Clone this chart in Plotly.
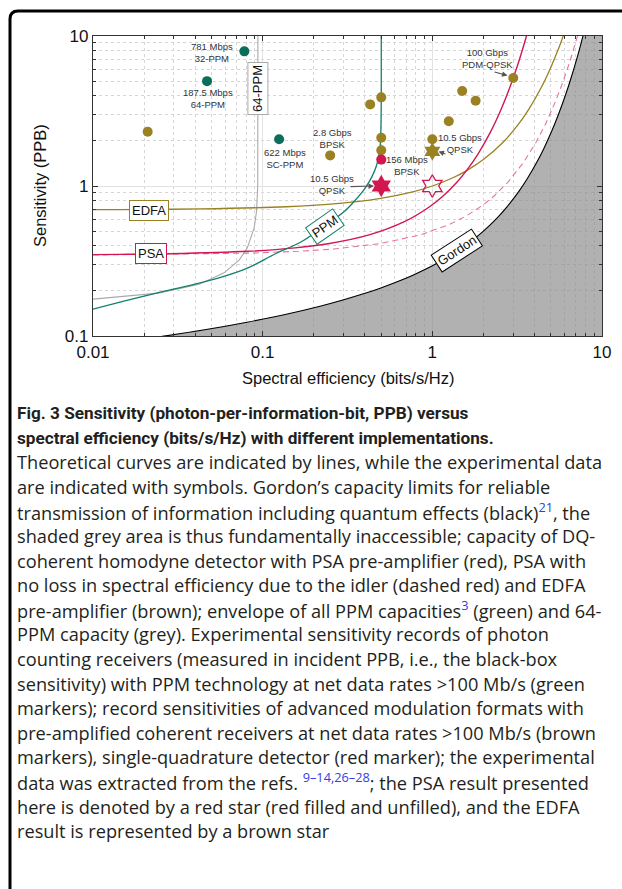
import plotly.graph_objects as go

# ---------------- data ----------------
gordon_x = [0.0226, 0.0269, 0.0455, 0.0809, 0.142, 0.2207, 0.290, 0.3924, 0.4835, 0.6424, 0.780,
            1.013, 1.377, 1.662, 2.0, 2.427, 2.755, 3.245, 3.610, 4.142, 4.529, 5.086, 5.487,
            6.115, 6.592, 7.101, 7.582, 7.774]
gordon_y = [0.0974, 0.1002, 0.110, 0.1236, 0.1408, 0.1586, 0.1724, 0.1911, 0.2068, 0.2335, 0.2564,
            0.2961, 0.363, 0.4213, 0.5, 0.618, 0.726, 0.9245, 1.108, 1.449, 1.766, 2.359, 2.916,
            4.088, 5.309, 7.041, 9.232, 10.29]

edfa_x = [0.01, 0.01436, 0.04264, 0.1375, 0.263, 0.4854, 0.7655, 1.0, 1.322, 1.585, 2.0, 2.585,
          3.170, 3.700, 4.392, 4.954, 5.524, 5.931]
edfa_y = [0.695, 0.6966, 0.7035, 0.7273, 0.7604, 0.824, 0.9144, 1.0, 1.1347, 1.2619, 1.5, 1.934,
          2.524, 3.243, 4.553, 6.056, 8.147, 10.117]

psa_x = [0.01, 0.01429, 0.02829, 0.08175, 0.1552, 0.2427, 0.424, 0.6893, 0.963, 1.161, 1.404,
         1.585, 1.850, 2.196, 2.522, 2.807, 3.170, 3.459, 3.629]
psa_y = [0.349, 0.350, 0.3535, 0.367, 0.3867, 0.412, 0.4717, 0.5803, 0.7269, 0.8614, 1.0686,
         1.2619, 1.6214, 2.2767, 3.172, 4.2745, 6.309, 8.672, 10.472]

psa_dash_x = [0.01, 0.01436, 0.02857, 0.08406, 0.1635, 0.263, 0.4854, 0.848, 1.263, 1.585, 2.0,
              2.322, 2.807, 3.459, 4.087, 4.644, 5.358, 5.931, 6.508, 7.140, 7.238]
psa_dash_y = [0.347, 0.3483, 0.350, 0.3569, 0.367, 0.3802, 0.412, 0.4717, 0.5542, 0.6309, 0.75,
              0.8614, 1.0686, 1.4453, 1.9572, 2.584, 3.733, 5.058, 6.915, 9.805, 10.361]

ppm_x = [0.01, 0.015, 0.024, 0.035, 0.054, 0.08, 0.12, 0.166, 0.22, 0.30, 0.35, 0.40, 0.44,
         0.47, 0.49, 0.497, 0.5, 0.5]
ppm_y = [0.151, 0.170, 0.194, 0.214, 0.242, 0.281, 0.355, 0.42, 0.52, 0.67, 0.80, 0.96, 1.15,
         1.38, 1.75, 2.3, 4.0, 11.0]

ppm64_x = [0.01, 0.0243, 0.0423, 0.05926, 0.07283, 0.08106, 0.08908, 0.09203, 0.09352,
           0.09374, 0.09375, 0.09375]
ppm64_y = [0.176, 0.193, 0.2216, 0.2637, 0.3218, 0.3855, 0.5262, 0.679, 1.0025, 1.5, 3.333, 11.0]

green_pts_x = [0.078, 0.047, 0.125]
green_pts_y = [7.9, 5.0, 2.05]

brown_pts_x = [0.021, 0.25, 0.43, 0.5, 0.5, 0.5, 1.0, 1.25, 1.5, 1.8, 3.0]
brown_pts_y = [2.3, 1.6, 3.5, 3.9, 2.1, 1.73, 2.05, 2.7, 4.3, 3.7, 5.25]

red_pt_x = [0.5]
red_pt_y = [1.5]

red_star_x = [0.5]
red_star_y = [1.0]
red_open_star_x = [1.0]
red_open_star_y = [1.0]
brown_star_x = [1.0]
brown_star_y = [1.7]

caption_title = [
    "Fig. 3 Sensitivity (photon-per-information-bit, PPB) versus",
    "spectral efficiency (bits/s/Hz) with different implementations.",
]
caption_lines = [
    "Theoretical curves are indicated by lines, while the experimental data",
    "are indicated with symbols. Gordon’s capacity limits for reliable",
    "transmission of information including quantum effects (black)<sup><span style='color:#3340e0'>21</span></sup>, the",
    "shaded grey area is thus fundamentally inaccessible; capacity of DQ-",
    "coherent homodyne detector with PSA pre-amplifier (red), PSA with",
    "no loss in spectral efficiency due to the idler (dashed red) and EDFA",
    "pre-amplifier (brown); envelope of all PPM capacities<sup><span style='color:#3340e0'>3</span></sup> (green) and 64-",
    "PPM capacity (grey). Experimental sensitivity records of photon",
    "counting receivers (measured in incident PPB, i.e., the black-box",
    "sensitivity) with PPM technology at net data rates &gt;100 Mb/s (green",
    "markers); record sensitivities of advanced modulation formats with",
    "pre-amplified coherent receivers at net data rates &gt;100 Mb/s (brown",
    "markers), single-quadrature detector (red marker); the experimental",
    "data was extracted from the refs. <sup><span style='color:#3340e0'>9–14,26–28</span></sup>; the PSA result presented",
    "here is denoted by a red star (red filled and unfilled), and the EDFA",
    "result is represented by a brown star",
]

# ---------------- styling ----------------
GREEN = "#0b6e5a"
GREEN_L = "#12806a"
BROWN = "#9a8122"
RED = "#d3164f"
PINK = "#e0789a"
GREY = "#aaaaaa"
FONT = "Liberation Sans, Arial, sans-serif"

# plot area in pixels
L, R, T, B = 93, 602, 36, 336
W, H = 622, 889


def PX(x):
    return (x - L) / (R - L)


def PY(y):
    return (B - y) / (B - T)


fig = go.Figure()

# inaccessible region
fig.add_trace(go.Scatter(x=gordon_x + [30, 30, gordon_x[0]], y=gordon_y + [30, 0.05, 0.05],
                         fill="toself", fillcolor="rgba(140,140,140,0.68)", line=dict(width=0),
                         mode="lines", hoverinfo="skip", showlegend=False))

fig.add_trace(go.Scatter(x=ppm64_x, y=ppm64_y, mode="lines", line=dict(color=GREY, width=1.1),
                         showlegend=False))
fig.add_trace(go.Scatter(x=psa_dash_x, y=psa_dash_y, mode="lines",
                         line=dict(color=PINK, width=1.1, dash="6px,4px"), showlegend=False))
fig.add_trace(go.Scatter(x=edfa_x, y=edfa_y, mode="lines", line=dict(color=BROWN, width=1.3),
                         line_shape="spline", showlegend=False))
fig.add_trace(go.Scatter(x=psa_x, y=psa_y, mode="lines", line=dict(color=RED, width=1.4),
                         line_shape="spline", showlegend=False))
fig.add_trace(go.Scatter(x=ppm_x, y=ppm_y, mode="lines", line=dict(color=GREEN_L, width=1.3),
                         line_shape="spline", showlegend=False))
fig.add_trace(go.Scatter(x=gordon_x, y=gordon_y, mode="lines", line=dict(color="black", width=1.1),
                         line_shape="spline", showlegend=False))

# experimental points
fig.add_trace(go.Scatter(x=green_pts_x, y=green_pts_y, mode="markers",
                         marker=dict(color=GREEN, size=10, line=dict(width=0)), showlegend=False))
fig.add_trace(go.Scatter(x=brown_pts_x, y=brown_pts_y, mode="markers",
                         marker=dict(color=BROWN, size=10, line=dict(width=0)), showlegend=False))
fig.add_trace(go.Scatter(x=red_pt_x, y=red_pt_y, mode="markers",
                         marker=dict(color=RED, size=10, line=dict(width=0)), showlegend=False))
fig.add_trace(go.Scatter(x=red_star_x, y=red_star_y, mode="markers",
                         marker=dict(color=RED, size=17, symbol="hexagram", line=dict(width=0)),
                         showlegend=False))
fig.add_trace(go.Scatter(x=red_open_star_x, y=red_open_star_y, mode="markers",
                         marker=dict(color=RED, size=17, symbol="hexagram-open", line=dict(width=1.3)),
                         showlegend=False))
fig.add_trace(go.Scatter(x=brown_star_x, y=brown_star_y, mode="markers",
                         marker=dict(color=BROWN, size=14, symbol="hexagram", line=dict(width=0)),
                         showlegend=False))

ann = []

# data labels
LBL = dict(size=9.5, color="#333333", family=FONT)
for txt, cx, cy in [
    ("781 Mbps<br>32-PPM", 212.3, 52.7),
    ("187.5 Mbps<br>64-PPM", 208.3, 99),
    ("622 Mbps<br>SC-PPM", 285, 158.3),
    ("2.8 Gbps<br>BPSK", 332.7, 138.3),
    ("156 Mbps<br>BPSK", 407.3, 165.7),
    ("10.5 Gbps<br>QPSK", 331.7, 184.3),
    ("10.5 Gbps<br>QPSK", 460, 143.3),
    ("100 Gbps<br>PDM-QPSK", 487.7, 58.3),
]:
    ann.append(dict(text=txt, x=PX(cx), y=PY(cy), xref="paper", yref="paper", showarrow=False,
                    font=LBL, xanchor="center", yanchor="middle"))

# arrows (head, tail)
for hx, hy, tx, ty in [(374, 186, 349, 186.7), (438.5, 151.5, 447, 154.5), (507.5, 75.5, 493, 71.5)]:
    ann.append(dict(text="", x=PX(hx), y=PY(hy), xref="paper", yref="paper", showarrow=True,
                    ax=tx - hx, ay=ty - hy, arrowhead=2, arrowsize=1, arrowwidth=1.1,
                    arrowcolor="#555555"))

# curve labels
CL = dict(size=13, color="#111111", family=FONT)
for txt, cx, cy, col, ang in [
    ("EDFA", 149, 210.3, BROWN, 0),
    ("PSA", 150.7, 253, RED, 0),
    ("PPM", 325, 226.7, GREEN_L, -35),
    ("Gordon", 456.7, 250, "black", -33),
    ("64-PPM", 257.7, 88.3, GREY, -90),
]:
    ann.append(dict(text=txt, x=PX(cx), y=PY(cy), xref="paper", yref="paper", showarrow=False,
                    font=CL, bgcolor="white", bordercolor=col, borderwidth=1, borderpad=2,
                    textangle=ang, xanchor="center", yanchor="middle"))

# axis titles
ann.append(dict(text="Spectral efficiency (bits/s/Hz)", x=PX(347.5), y=PY(378), xref="paper",
                yref="paper", showarrow=False, font=dict(size=16.5, color="#111111", family=FONT),
                xanchor="center", yanchor="middle"))
ann.append(dict(text="Sensitivity (PPB)", x=PX(40), y=PY(186), xref="paper", yref="paper",
                showarrow=False, textangle=-90, font=dict(size=16.5, color="#111111", family=FONT),
                xanchor="center", yanchor="middle"))

# caption
CAPB = dict(size=17.2, color="#231f20", family="Roboto, Open Sans, sans-serif")
CAP = dict(size=18.2, color="#231f20", family="Open Sans, Noto Sans, sans-serif")
row = 0
for line in caption_title:
    ann.append(dict(text="<b>" + line + "</b>", x=PX(15), y=PY(413 + row * 24.6), xref="paper",
                    yref="paper", showarrow=False, font=CAPB, xanchor="left", yanchor="middle",
                    align="left"))
    row += 1
for line in caption_lines:
    ann.append(dict(text=line, x=PX(15), y=PY(413 + row * 24.6), xref="paper", yref="paper",
                    showarrow=False, font=CAP, xanchor="left", yanchor="middle", align="left"))
    row += 1

# outer rounded frame
frame_path = (f"M {PX(10)} {PY(950)} L {PX(10)} {PY(19)} Q {PX(10)} {PY(11)} {PX(18)} {PY(11)} "
              f"L {PX(640)} {PY(11)}")
shapes = [dict(type="path", path=frame_path, xref="paper", yref="paper",
               line=dict(color="black", width=3))]

axis_common = dict(
    type="log", dtick=1, ticks="inside", ticklen=5, tickwidth=1, tickcolor="#333333",
    showline=True, linecolor="#333333", linewidth=1.2, mirror="allticks",
    showgrid=True, gridcolor="#e2e2e2", gridwidth=1,
    tickfont=dict(size=17, color="#111111", family=FONT),
    minor=dict(ticks="inside", ticklen=3, tickcolor="#333333", dtick="D1", showgrid=True,
               gridcolor="#d6d6d6", griddash="dot", gridwidth=1),
    zeroline=False,
)

fig.update_layout(
    width=W, height=H, autosize=False,
    margin=dict(l=L, r=W - R, t=T, b=H - B),
    paper_bgcolor="white", plot_bgcolor="white",
    xaxis=dict(range=[-2, 1], **axis_common),
    yaxis=dict(range=[-1, 1], **axis_common),
    annotations=ann, shapes=shapes, showlegend=False,
)

fig.write_html("out.html", config={"displayModeBar": False},
               post_script="document.body.style.margin='0px';")
